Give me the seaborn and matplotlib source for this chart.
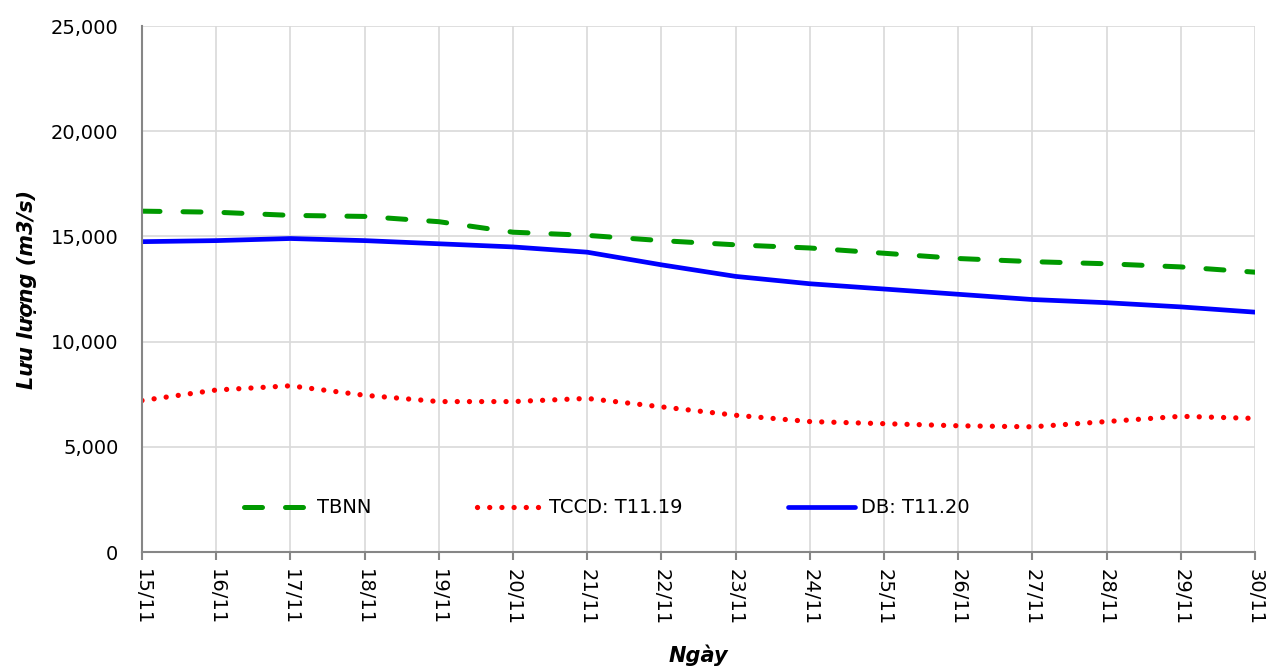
import numpy as np
import pandas as pd
import matplotlib
matplotlib.use('Agg')
import matplotlib.pyplot as plt
from matplotlib.ticker import FuncFormatter
import seaborn as sns

# Daily flow values (m3/s), 15/11 -> 30/11
days = ['15/11', '16/11', '17/11', '18/11', '19/11', '20/11', '21/11', '22/11',
        '23/11', '24/11', '25/11', '26/11', '27/11', '28/11', '29/11', '30/11']
tbnn = [16200, 16150, 16000, 15950, 15700, 15200, 15050, 14800,
        14600, 14450, 14200, 13950, 13800, 13700, 13550, 13300]
tccd = [7200, 7700, 7900, 7450, 7150, 7150, 7300, 6900,
        6500, 6200, 6100, 6000, 5950, 6200, 6450, 6350]
db = [14750, 14800, 14900, 14800, 14650, 14500, 14250, 13650,
      13100, 12750, 12500, 12250, 12000, 11850, 11650, 11400]

df = pd.DataFrame({'idx': np.arange(len(days)), 'Ngay': days,
                   'TBNN': tbnn, 'TCCD': tccd, 'DB': db})

sns.set_style('white')
plt.rcParams['font.family'] = ['DejaVu Sans']
plt.rcParams['text.color'] = 'black'
plt.rcParams['axes.labelcolor'] = 'black'
plt.rcParams['xtick.labelcolor'] = 'black'
plt.rcParams['ytick.labelcolor'] = 'black'

fig = plt.figure(figsize=(12.69, 6.67), dpi=100)
ax = fig.add_axes([0.1119, 0.1724, 0.877, 0.7886])

sns.lineplot(data=df, x='idx', y='TBNN', ax=ax, color='#009900', linewidth=3.6,
             linestyle=(0, (3.6, 4.6)), dash_capstyle='round', label='TBNN')
sns.lineplot(data=df, x='idx', y='TCCD', ax=ax, color='#ff0000', linewidth=3.8,
             linestyle=(0, (0.01, 2.3)), dash_capstyle='round', label='TCCD: T11.19')
sns.lineplot(data=df, x='idx', y='DB', ax=ax, color='#0000ff', linewidth=3.4,
             solid_capstyle='round', label='DB: T11.20')

ax.set_xlim(0, len(days) - 1)
ax.set_ylim(0, 25000)
ax.set_xticks(df['idx'])
ax.set_xticklabels(days, rotation=270, fontsize=14)
ax.set_yticks(np.arange(0, 25001, 5000))
ax.yaxis.set_major_formatter(FuncFormatter(lambda v, p: f'{int(v):,}'))
ax.tick_params(axis='y', labelsize=14, length=0, pad=17)
ax.tick_params(axis='x', length=6, width=1.5, color='#868686', pad=6, bottom=True)

ax.grid(True, color='#d9d9d9', linewidth=1.2)
for s in ['top', 'right']:
    ax.spines[s].set_visible(False)
for s in ['left', 'bottom']:
    ax.spines[s].set_color('#868686')
    ax.spines[s].set_linewidth(1.5)

ax.set_xlabel('Ngày', fontsize=15, fontweight='bold', fontstyle='italic', labelpad=14)
ax.set_ylabel('Lưu lượng (m3/s)', fontsize=15, fontweight='bold', fontstyle='italic', labelpad=10)

leg = ax.legend(loc='center', bbox_to_anchor=(0.4177, 0.084), ncol=3, frameon=False,
                fontsize=14, handlelength=3.45, handletextpad=0.3, columnspacing=5.4)

fig.savefig('out.png', dpi=100)
